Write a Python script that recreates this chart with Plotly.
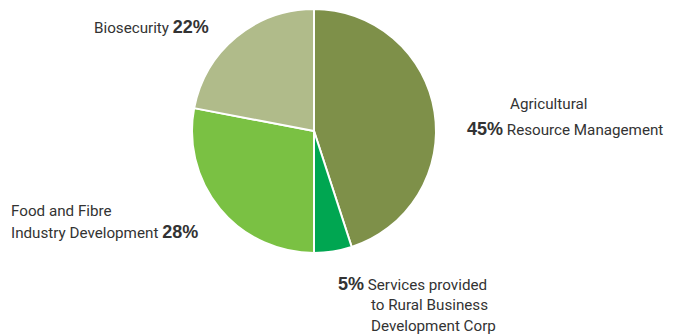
import plotly.graph_objects as go

# Share of expenditure by program
programs = [
    "Agricultural Resource Management",
    "Services provided to Rural Business Development Corp",
    "Food and Fibre Industry Development",
    "Biosecurity",
]
shares = [45, 5, 28, 22]
colors = ["#7e9049", "#00a651", "#7ac143", "#b0bb8a"]

W, H = 675, 336
REG = "Roboto, Arial, sans-serif"
BOLD = "Liberation Sans, Arial, sans-serif"
TXT = "#333333"


def px(x):
    return x / W


def py(y):
    return 1 - y / H


def pct(v):
    return (f"<span style='font-family:{BOLD};font-size:18px;font-weight:bold'>"
            f"<b>{v}%</b></span>")


fig = go.Figure(
    go.Pie(
        labels=programs,
        values=shares,
        sort=False,
        direction="clockwise",
        rotation=0,
        marker=dict(colors=colors, line=dict(color="white", width=2)),
        textinfo="none",
        hoverinfo="label+percent",
        domain=dict(x=[px(192), px(436)], y=[py(253), py(9)]),
        showlegend=False,
    )
)

annotations = [
    # Biosecurity
    dict(x=px(211), y=py(27), text=f"Biosecurity {pct(shares[3])}", xanchor="right"),
    # Agricultural Resource Management
    dict(x=px(508), y=py(104), text="Agricultural", xanchor="left"),
    dict(x=px(465), y=py(129), text=f"{pct(shares[0])} Resource Management", xanchor="left"),
    # Food and Fibre
    dict(x=px(9), y=py(211), text="Food and Fibre", xanchor="left"),
    dict(x=px(9), y=py(232), text=f"Industry Development {pct(shares[2])}", xanchor="left"),
    # Services
    dict(x=px(336), y=py(284), text=f"{pct(shares[1])} Services provided", xanchor="left"),
    dict(x=px(369), y=py(305), text="to Rural Business", xanchor="left"),
    dict(x=px(369), y=py(326), text="Development Corp", xanchor="left"),
]
for a in annotations:
    a.update(xref="paper", yref="paper", yanchor="middle", showarrow=False,
             font=dict(family=REG, size=15.2, color=TXT))

fig.update_layout(
    width=W,
    height=H,
    margin=dict(l=0, r=0, t=0, b=0),
    paper_bgcolor="white",
    plot_bgcolor="white",
    annotations=annotations,
)

fig.write_html("out.html")
